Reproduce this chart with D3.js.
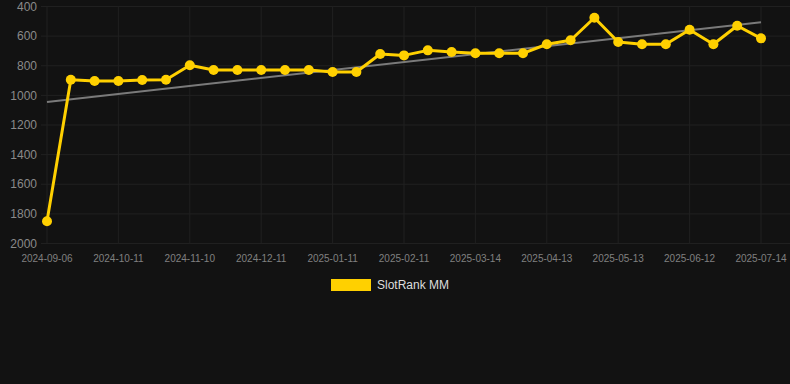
<!DOCTYPE html>
<html>
<head>
<meta charset="utf-8">
<script src="https://cdn.jsdelivr.net/npm/d3@7"></script>
<style>
  html, body { margin: 0; padding: 0; background: #121212; }
  #chart { width: 790px; height: 384px; }
</style>
</head>
<body>
<div id="chart"></div>
<script>
// dates (only every 3rd one is labelled on the axis)
const dates = [
  "2024-09-06", "2024-09-18", "2024-09-30", "2024-10-11", "2024-10-21", "2024-10-31",
  "2024-11-10", "2024-11-20", "2024-12-01", "2024-12-11", "2024-12-21", "2025-01-01",
  "2025-01-11", "2025-01-21", "2025-02-01", "2025-02-11", "2025-02-21", "2025-03-04",
  "2025-03-14", "2025-03-24", "2025-04-03", "2025-04-13", "2025-04-23", "2025-05-03",
  "2025-05-13", "2025-05-23", "2025-06-02", "2025-06-12", "2025-06-22", "2025-07-03",
  "2025-07-14"
];
const rankValues = [
  1850, 895, 903, 903, 896, 895,
  797, 829, 829, 829, 829, 829,
  842, 842, 721, 730, 696, 707,
  716, 716, 716, 655, 628, 476,
  640, 655, 655, 557, 655, 530,
  615
];
const yTicks = [400, 600, 800, 1000, 1200, 1400, 1600, 1800, 2000];
const seriesName = "SlotRank MM";

const width = 790;
const height = 384;

const svg = d3.select("#chart")
  .append("svg")
  .attr("width", width)
  .attr("height", height)
  .style("background-color", "#121212")
  .style("font-family", "Liberation Sans, Arial, sans-serif");

// scales
const x = d3.scalePoint()
  .domain(dates)
  .range([47, 761]);

const y = d3.scaleLinear()
  .domain([400, 2000])
  .range([6.5, 243.5]);

// horizontal grid
svg.append("g")
  .selectAll("line")
  .data(yTicks)
  .join("line")
  .attr("x1", 41)
  .attr("x2", 790)
  .attr("y1", d => y(d))
  .attr("y2", d => y(d))
  .attr("stroke", "#202020")
  .attr("stroke-width", 1);

// vertical grid at labelled dates
const labelled = dates.filter((d, i) => i % 3 === 0);
svg.append("g")
  .selectAll("line")
  .data(labelled)
  .join("line")
  .attr("x1", d => x(d))
  .attr("x2", d => x(d))
  .attr("y1", y(400))
  .attr("y2", y(2000))
  .attr("stroke", "#202020")
  .attr("stroke-width", 1);

// y axis labels
svg.append("g")
  .selectAll("text")
  .data(yTicks)
  .join("text")
  .attr("x", 37)
  .attr("y", d => y(d))
  .attr("dy", "0.35em")
  .attr("text-anchor", "end")
  .attr("fill", "#8a8a8a")
  .attr("font-size", "12px")
  .text(d => d);

// x axis labels
svg.append("g")
  .selectAll("text")
  .data(labelled)
  .join("text")
  .attr("x", d => x(d))
  .attr("y", 262)
  .attr("text-anchor", "middle")
  .attr("fill", "#808080")
  .attr("font-size", "10px")
  .text(d => d);

// trend line (least squares over the index)
const n = rankValues.length;
const xMean = d3.mean(rankValues, (d, i) => i);
const yMean = d3.mean(rankValues);
const slope = d3.sum(rankValues, (d, i) => (i - xMean) * (d - yMean)) /
  d3.sum(rankValues, (d, i) => (i - xMean) * (i - xMean));
const intercept = yMean - slope * xMean;

svg.append("line")
  .attr("x1", x(dates[0]))
  .attr("y1", y(intercept))
  .attr("x2", x(dates[n - 1]))
  .attr("y2", y(intercept + slope * (n - 1)))
  .attr("stroke", "#7a7a7a")
  .attr("stroke-width", 2);

// series line
const line = d3.line()
  .x((d, i) => x(dates[i]))
  .y(d => y(d));

svg.append("path")
  .datum(rankValues)
  .attr("d", line)
  .attr("fill", "none")
  .attr("stroke", "#FFD000")
  .attr("stroke-width", 3)
  .attr("stroke-linejoin", "round");

svg.append("g")
  .selectAll("circle")
  .data(rankValues)
  .join("circle")
  .attr("cx", (d, i) => x(dates[i]))
  .attr("cy", d => y(d))
  .attr("r", 5)
  .attr("fill", "#FFD000");

// legend
svg.append("rect")
  .attr("x", 331)
  .attr("y", 279)
  .attr("width", 40)
  .attr("height", 12)
  .attr("fill", "#FFD000");

svg.append("text")
  .attr("x", 377)
  .attr("y", 285)
  .attr("dy", "0.35em")
  .attr("fill", "#dddddd")
  .attr("font-size", "12px")
  .text(seriesName);
</script>
</body>
</html>
